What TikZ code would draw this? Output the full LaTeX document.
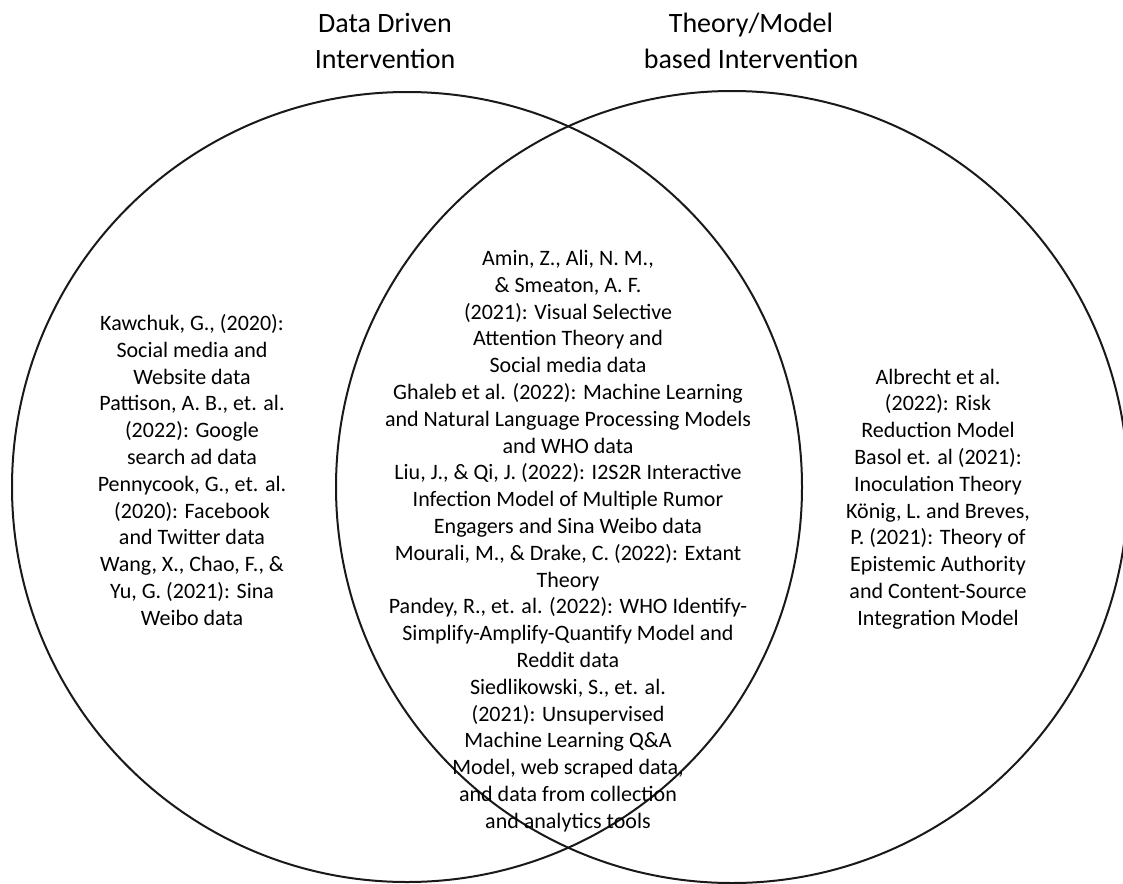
\documentclass[tikz,border=0pt]{standalone}
\usepackage{fontspec}
\setmainfont{Carlito}
\usetikzlibrary{positioning}

\begin{document}
\begin{tikzpicture}[x=0.5pt, y=-0.5pt, line width=1pt,
	venn/.style ={circle, draw=black!90, inner sep=0pt},
	heading/.style ={align=center, font=\fontsize{14}{18}\selectfont},
	refs/.style ={align=center, font=\fontsize{11}{13.4}\selectfont}]
	\useasboundingbox (0,0) rectangle (1123,883);

	% the two sets
	\node (datacirc) [venn, minimum size=395pt] at (407,487) {};
	\node (theorycirc) [venn, minimum size=396pt] at (732,487) {};

	\node (datahead) [heading] at (385,41) {Data Driven\\Intervention};
	\node (theoryhead) [heading] at (751,41) {Theory/Model\\based Intervention};

	% data only
	\node (dataonly) [refs] at (192,470) {Kawchuk, G., (2020):\\Social media and\\Website data\\Pattison, A. B., et. al.\\(2022): Google\\search ad data\\Pennycook, G., et. al.\\(2020): Facebook\\and Twitter data\\Wang, X., Chao, F., \&\\Yu, G. (2021): Sina\\Weibo data};

	% overlap
	\node (both) [refs] at (568,541) {Amin, Z., Ali, N. M.,\\\& Smeaton, A. F.\\(2021): Visual Selective\\Attention Theory and\\Social media data\\Ghaleb et al. (2022): Machine Learning\\and Natural Language Processing Models\\and WHO data\\Liu, J., \& Qi, J. (2022): I2S2R Interactive\\Infection Model of Multiple Rumor\\Engagers and Sina Weibo data\\Mourali, M., \& Drake, C. (2022): Extant\\Theory\\Pandey, R., et. al. (2022): WHO Identify-\\Simplify-Amplify-Quantify Model and\\Reddit data\\Siedlikowski, S., et. al.\\(2021): Unsupervised\\Machine Learning Q\&A\\Model, web scraped data,\\and data from collection\\and analytics tools};

	% theory only
	\node (theoryonly) [refs] at (938,499) {Albrecht et al.\\(2022): Risk\\Reduction Model\\Basol et. al (2021):\\Inoculation Theory\\König, L. and Breves,\\P. (2021): Theory of\\Epistemic Authority\\and Content-Source\\Integration Model};
\end{tikzpicture}
\end{document}
